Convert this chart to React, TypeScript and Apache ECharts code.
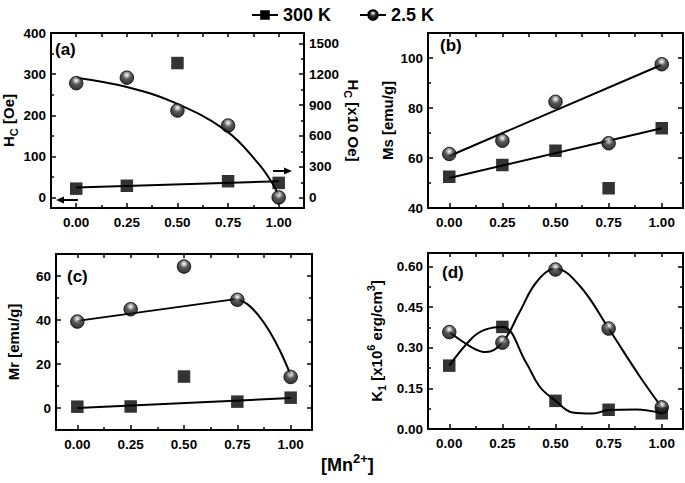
import React, { useEffect, useRef } from "react";
import * as echarts from "echarts";

// ---- data ----
const X = [0, 0.25, 0.5, 0.75, 1];

// (a) Hc
const HC_300K = [22, 29, 327, 40, 36];
const HC_2_5K = [1113, 1166, 847, 701, 3];
const HC_300K_FIT_X = [0, 1];
const HC_300K_FIT = [25, 40];
const HC_2_5K_FIT_X = [0, 0.25, 0.48, 0.74, 0.9, 0.97, 1.0];
const HC_2_5K_FIT = [1165, 1075, 928, 652, 331, 136, 20];

// (b) Ms
const MS_300K = [52.5, 57.2, 62.9, 47.9, 71.9];
const MS_2_5K = [61.6, 66.9, 82.5, 65.9, 97.5];
const MS_300K_FIT_X = [0, 1];
const MS_300K_FIT = [52, 71.9];
const MS_2_5K_FIT_X = [0, 1];
const MS_2_5K_FIT = [60.8, 97.3];

// (c) Mr
const MR_300K = [0.6, 0.7, 14.3, 2.9, 4.7];
const MR_2_5K = [39.3, 44.9, 64.3, 49.2, 14.1];
const MR_300K_FIT_X = [0, 1];
const MR_300K_FIT = [0, 4.5];
const MR_2_5K_LINE_X = [0, 0.75];
const MR_2_5K_LINE = [39.6, 49.6];
const MR_2_5K_CURVE_X = [0.75, 0.8, 0.85, 0.9, 0.95, 1.0];
const MR_2_5K_CURVE = [49.6, 47, 42, 35, 26, 15];

// (d) K1
const K1_300K = [0.234, 0.377, 0.104, 0.071, 0.058];
const K1_2_5K = [0.358, 0.319, 0.589, 0.371, 0.08];
const K1_300K_FIT_X = [0, 0.11, 0.173, 0.25, 0.362, 0.425, 0.5, 0.58, 0.675, 0.75, 0.88, 1.0];
const K1_300K_FIT = [0.234, 0.338, 0.368, 0.377, 0.245, 0.157, 0.104, 0.061, 0.057, 0.07, 0.072, 0.058];
const K1_2_5K_FIT_X = [0, 0.11, 0.173, 0.25, 0.33, 0.41, 0.5, 0.613, 0.75, 0.896, 1.0];
const K1_2_5K_FIT = [0.358, 0.3, 0.284, 0.319, 0.43, 0.542, 0.592, 0.53, 0.371, 0.195, 0.08];

// ticks
const X_MAJOR = [0, 0.25, 0.5, 0.75, 1];
const X_MINOR = [0.125, 0.375, 0.625, 0.875];
const X_ALL = [0, 0.125, 0.25, 0.375, 0.5, 0.625, 0.75, 0.875, 1];

const A_LEFT_MAJOR = [0, 100, 200, 300, 400];
const A_LEFT_MINOR = [50, 150, 250, 350];
const A_RIGHT_MAJOR = [0, 300, 600, 900, 1200, 1500];
const A_RIGHT_MINOR = [150, 450, 750, 1050, 1350];
const B_MAJOR = [40, 60, 80, 100];
const B_MINOR = [50, 70, 90];
const C_MAJOR = [0, 20, 40, 60];
const C_MINOR = [10, 30, 50];
const D_MAJOR = [0, 0.15, 0.3, 0.45, 0.6];
const D_MINOR = [0.075, 0.225, 0.375, 0.525];

const FONT = "Liberation Sans, Arial, sans-serif";

const pairs = (xs: number[], ys: number[]) => xs.map((x, i) => [x, ys[i]]);

export default function App() {
  const ref = useRef<HTMLDivElement>(null);

  useEffect(() => {
    if (!ref.current) return;
    const chart = echarts.init(ref.current, undefined, { renderer: "svg" });

    const ball = new echarts.graphic.RadialGradient(0.5, 0.3, 0.7, [
      { offset: 0, color: "#ffffff" },
      { offset: 0.15, color: "#bdbdbd" },
      { offset: 0.45, color: "#2e2e2e" },
      { offset: 1, color: "#000000" },
    ]);

    const lbl = { color: "#000", fontWeight: "bold" as const, fontSize: 13.5, fontFamily: FONT };
    const axLine = { show: true, onZero: false, lineStyle: { color: "#000", width: 2 } };
    const noLine = { show: false, onZero: false };
    const tickStyle = { color: "#000", width: 1.5 };

    const grids = [
      { left: 49, top: 33, width: 255, height: 175 },
      { left: 428, top: 33, width: 255, height: 175 },
      { left: 56, top: 254, width: 256, height: 176 },
      { left: 428, top: 253, width: 255, height: 176 },
    ];
    const xRanges = [
      [-0.125, 1.125],
      [-0.1, 1.1],
      [-0.1, 1.1],
      [-0.1, 1.1],
    ];

    const xAxis: any[] = [];
    const xMain: number[] = [];
    grids.forEach((g, gi) => {
      const [min, max] = xRanges[gi];
      xMain.push(xAxis.length);
      xAxis.push({
        type: "value", gridIndex: gi, min, max, position: "bottom",
        axisLine: axLine,
        axisTick: { inside: true, length: 5, customValues: X_MAJOR, lineStyle: tickStyle },
        axisLabel: { ...lbl, customValues: X_MAJOR, margin: 7, formatter: (v: number) => v.toFixed(2) },
        splitLine: { show: false },
      });
      xAxis.push({
        type: "value", gridIndex: gi, min, max, position: "bottom",
        axisLine: noLine,
        axisTick: { inside: true, length: 3, customValues: X_MINOR, lineStyle: tickStyle },
        axisLabel: { show: false },
        splitLine: { show: false },
      });
      xAxis.push({
        type: "value", gridIndex: gi, min, max, position: "top",
        axisLine: axLine,
        axisTick: { inside: true, length: 4, customValues: X_ALL, lineStyle: tickStyle },
        axisLabel: { show: false },
        splitLine: { show: false },
      });
    });

    const yAxis: any[] = [];
    const nameStyle = { color: "#000", fontWeight: "bold" as const, fontSize: 15, fontFamily: FONT };
    const rich = {
      n: { fontSize: 15, fontWeight: "bold", fontFamily: FONT, color: "#000", lineHeight: 22, verticalAlign: "middle" },
      sub: { fontSize: 11, fontWeight: "bold", fontFamily: FONT, color: "#000", verticalAlign: "bottom", lineHeight: 22 },
      sup: { fontSize: 11, fontWeight: "bold", fontFamily: FONT, color: "#000", verticalAlign: "top", lineHeight: 22 },
    };
    const addY = (
      gi: number, min: number, max: number, position: string,
      major: number[], minor: number[], opts: any,
      fmt?: (v: number) => string, showLabels = true
    ) => {
      const idx = yAxis.length;
      yAxis.push({
        type: "value", gridIndex: gi, min, max, position,
        axisLine: axLine,
        axisTick: { inside: true, length: 5, customValues: major, lineStyle: tickStyle },
        axisLabel: showLabels ? { ...lbl, customValues: major, margin: 5, formatter: fmt || ((v: number) => String(v)) } : { show: false },
        splitLine: { show: false },
        nameLocation: "middle",
        nameTextStyle: { ...nameStyle, rich },
        ...opts,
      });
      yAxis.push({
        type: "value", gridIndex: gi, min, max, position,
        axisLine: noLine,
        axisTick: { inside: true, length: 3, customValues: minor, lineStyle: tickStyle },
        axisLabel: { show: false },
        splitLine: { show: false },
      });
      return idx;
    };

    // (a)
    const aL = addY(0, -25, 400, "left", A_LEFT_MAJOR, A_LEFT_MINOR, { name: "{n|H}{sub|C}{n| [Oe]}", nameGap: 25 });
    const aR = addY(0, -100, 1600, "right", A_RIGHT_MAJOR, A_RIGHT_MINOR, { name: "{n|H}{sub|C}{n| [x10 Oe]}", nameGap: 38, nameRotate: -90 });
    // (b)
    const bL = addY(1, 40, 110, "left", B_MAJOR, B_MINOR, { name: "{n|Ms [emu/g]}", nameGap: 30 });
    addY(1, 40, 110, "right", B_MAJOR, B_MINOR, {}, undefined, false);
    // (c)
    const cL = addY(2, -10, 70, "left", C_MAJOR, C_MINOR, { name: "{n|Mr [emu/g]}", nameGap: 32 });
    addY(2, -10, 70, "right", C_MAJOR, C_MINOR, {}, undefined, false);
    // (d)
    const dL = addY(3, 0, 0.65, "left", D_MAJOR, D_MINOR,
      { name: "{n|K}{sub|1}{n| [x10}{sup|6}{n| erg/cm}{sup|3}{n|]}", nameGap: 41 }, (v: number) => v.toFixed(2));
    addY(3, 0, 0.65, "right", D_MAJOR, D_MINOR, {}, undefined, false);

    const sq = (name: string, xi: number, yi: number, xs: number[], ys: number[]) => ({
      type: "scatter", name, xAxisIndex: xi, yAxisIndex: yi, data: pairs(xs, ys),
      symbol: "rect", symbolSize: 12.5, itemStyle: { color: "#000" }, z: 4,
    });
    const bl = (name: string, xi: number, yi: number, xs: number[], ys: number[]) => ({
      type: "scatter", name, xAxisIndex: xi, yAxisIndex: yi, data: pairs(xs, ys),
      symbol: "circle", symbolSize: 13.5, itemStyle: { color: ball, borderColor: "#000", borderWidth: 1 }, z: 4,
    });
    const fit = (name: string, xi: number, yi: number, xs: number[], ys: number[], smooth: any = false) => ({
      type: "line", name, xAxisIndex: xi, yAxisIndex: yi, data: pairs(xs, ys),
      showSymbol: false, symbol: "none", smooth, lineStyle: { color: "#000", width: 2 }, z: 3,
    });

    const series: any[] = [
      // legend entries
      { type: "line", name: "300 K", xAxisIndex: xMain[0], yAxisIndex: aL, data: [], symbol: "rect", symbolSize: 10, itemStyle: { color: "#000" }, lineStyle: { color: "#000", width: 2 } },
      { type: "line", name: "2.5 K", xAxisIndex: xMain[0], yAxisIndex: aL, data: [], symbol: "circle", symbolSize: 11, itemStyle: { color: ball, borderColor: "#000", borderWidth: 1 }, lineStyle: { color: "#000", width: 2 } },
      // (a)
      fit("a300fit", xMain[0], aL, HC_300K_FIT_X, HC_300K_FIT),
      fit("a25fit", xMain[0], aR, HC_2_5K_FIT_X, HC_2_5K_FIT, 0.4),
      sq("a300", xMain[0], aL, X, HC_300K),
      bl("a25", xMain[0], aR, X, HC_2_5K),
      // (b)
      fit("b300fit", xMain[1], bL, MS_300K_FIT_X, MS_300K_FIT),
      fit("b25fit", xMain[1], bL, MS_2_5K_FIT_X, MS_2_5K_FIT),
      sq("b300", xMain[1], bL, X, MS_300K),
      bl("b25", xMain[1], bL, X, MS_2_5K),
      // (c)
      fit("c300fit", xMain[2], cL, MR_300K_FIT_X, MR_300K_FIT),
      fit("c25line", xMain[2], cL, MR_2_5K_LINE_X, MR_2_5K_LINE),
      fit("c25curve", xMain[2], cL, MR_2_5K_CURVE_X, MR_2_5K_CURVE, 0.4),
      sq("c300", xMain[2], cL, X, MR_300K),
      bl("c25", xMain[2], cL, X, MR_2_5K),
      // (d)
      fit("d300fit", xMain[3], dL, K1_300K_FIT_X, K1_300K_FIT, 0.4),
      fit("d25fit", xMain[3], dL, K1_2_5K_FIT_X, K1_2_5K_FIT, 0.4),
      sq("d300", xMain[3], dL, X, K1_300K),
      bl("d25", xMain[3], dL, X, K1_2_5K),
    ];

    const panelText = (text: string, x: number, y: number) => ({
      type: "text", left: x, top: y,
      style: { text, fill: "#000", font: `bold 17px ${FONT}` },
    });

    chart.setOption({
      animation: false,
      backgroundColor: "#fff",
      grid: grids.map((g) => ({ ...g, containLabel: false })),
      xAxis,
      yAxis,
      legend: {
        data: ["300 K", "2.5 K"],
        top: 1,
        left: "center",
        itemWidth: 26,
        itemHeight: 12,
        itemGap: 28,
        textStyle: { color: "#000", fontWeight: "bold", fontSize: 18, fontFamily: FONT },
      },
      series,
      graphic: [
        panelText("(a)", 55, 41),
        panelText("(b)", 440, 37),
        panelText("(c)", 67, 268),
        panelText("(d)", 442, 264),
        {
          type: "text", left: 321, top: 452,
          style: {
            text: "[Mn{sup|2+}]",
            fill: "#000",
            font: `bold 18px ${FONT}`,
            rich: {
              sup: { font: `bold 13px ${FONT}`, fill: "#000", verticalAlign: "top", lineHeight: 26 },
            },
          },
        },
        // arrows in (a)
        { type: "line", shape: { x1: 78, y1: 200, x2: 62, y2: 200 }, style: { stroke: "#000", lineWidth: 2 } },
        { type: "polygon", shape: { points: [[56, 200], [64, 196.5], [64, 203.5]] }, style: { fill: "#000" } },
        { type: "line", shape: { x1: 273, y1: 171, x2: 285, y2: 171 }, style: { stroke: "#000", lineWidth: 2 } },
        { type: "polygon", shape: { points: [[292, 171], [284, 167.5], [284, 174.5]] }, style: { fill: "#000" } },
      ],
    });

    return () => chart.dispose();
  }, []);

  return (
    <div
      ref={ref}
      style={{ position: "absolute", left: 0, top: 0, width: 685, height: 483, background: "#fff" }}
    />
  );
}
